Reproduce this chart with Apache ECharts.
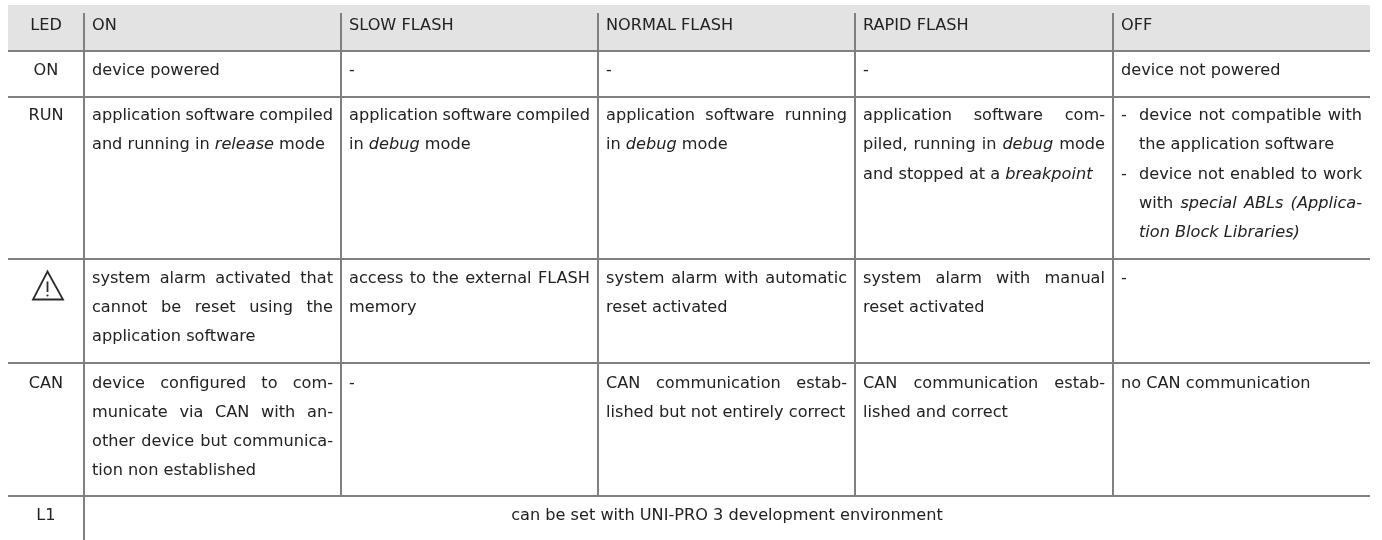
<!DOCTYPE html>
<html><head><meta charset="utf-8">
<style>html,body{margin:0;padding:0;background:#fff}#c{width:1382px;height:540px}</style>
<script src="https://cdn.jsdelivr.net/npm/echarts@6/dist/echarts.min.js"></script>
</head><body><div id="c"></div>
<script>
// Table content: *x* marks italic, \n marks a line break, "- " a hanging bullet.
const headers = ['LED','ON','SLOW FLASH','NORMAL FLASH','RAPID FLASH','OFF'];
const ledNames = ['ON','RUN','!','CAN','L1'];
const onTexts = [
  'device powered',
  'application software compiled\nand running in *release* mode',
  'system alarm activated that\ncannot be reset using the\napplication software',
  'device configured to com-\nmunicate via CAN with an-\nother device but communica-\ntion non established'
];
const slowTexts = [
  '-',
  'application software compiled\nin *debug* mode',
  'access to the external FLASH\nmemory',
  '-'
];
const normalTexts = [
  '-',
  'application software running\nin *debug* mode',
  'system alarm with automatic\nreset activated',
  'CAN communication estab-\nlished but not entirely correct'
];
const rapidTexts = [
  '-',
  'application software com-\npiled, running in *debug* mode\nand stopped at a *breakpoint*',
  'system alarm with manual\nreset activated',
  'CAN communication estab-\nlished and correct'
];
const offTexts = [
  'device not powered',
  '- device not compatible with\n  the application software\n- device not enabled to work\n  with *special ABLs (Applica-*\n  *tion Block Libraries)*',
  '-',
  'no CAN communication'
];
const l1Text = 'can be set with UNI-PRO 3 development environment';

// Layout of the table in the pixel-scaled axes
const columnEdges = [8,84,341,598,855,1113,1370];
const rowEdges = [51,97,259,363,496,540];
const firstLineY = [70.5,116,278.5,383.5,516];
const headerY = 25.5;
const lineStep = 29.2;
const PAD = 8, INDENT = 18;
const FONT = 'DejaVu Sans', SIZE = 16.15, COLOR = '#222222', RULE = '#808080', BAND = '#e3e3e3';

const ctx = document.createElement('canvas').getContext('2d');
function measure(t, it){ ctx.font = (it?'italic ':'')+SIZE+'px "'+FONT+'"'; return ctx.measureText(t).width; }
function parseLine(s){
  const words=[]; let it=false;
  s.trim().split(/\s+/).forEach(w=>{
    let st=it, txt=w;
    if(txt.startsWith('*')){st=true;txt=txt.slice(1);it=true;}
    if(txt.endsWith('*')){txt=txt.slice(0,-1);it=false;}
    words.push({t:txt,it:st});
  });
  return words;
}
function textEl(x,y,t,it,align){
  return {type:'text',x:x,y:y,style:{text:t,fontFamily:FONT,fontSize:SIZE,fontStyle:it?'italic':'normal',fill:COLOR,align:align||'left',verticalAlign:'middle'}};
}
function cellEls(api,text,c,r){
  const out=[]; const lines=text.split('\n');
  const left=api.coord([columnEdges[c]+PAD,0])[0];
  const right=api.coord([columnEdges[c+1]-PAD,0])[0];
  lines.forEach((ln,i)=>{
    const y=api.coord([0,firstLineY[r]+i*lineStep])[1];
    let x0=left; let src=ln;
    if(src.startsWith('- ')){ out.push(textEl(x0,y,'-',false)); x0=left+INDENT; src=src.slice(2); }
    else if(src.startsWith('  ')){ x0=left+INDENT; }
    const words=parseLine(src);
    const next=lines[i+1];
    const justify = next!==undefined && !next.startsWith('- ');
    const ws=words.map(w=>measure(w.t,w.it));
    const total=ws.reduce((a,b)=>a+b,0);
    const sp = justify && words.length>1 ? (right-x0-total)/(words.length-1) : measure(' ',false);
    let x=x0;
    words.forEach((w,k)=>{ out.push(textEl(x,y,w.t,w.it)); x+=ws[k]+sp; });
  });
  return out;
}
const columns=[onTexts,slowTexts,normalTexts,rapidTexts,offTexts];
function renderTable(params,api){
  const ch=[];
  const P=(x,y)=>api.coord([x,y]);
  const L=columnEdges[0],R=columnEdges[6];
  const a=P(L,5),b=P(R,50);
  ch.push({type:'rect',shape:{x:a[0],y:a[1],width:b[0]-a[0],height:b[1]-a[1]},style:{fill:BAND}});
  const line=(x1,y1,x2,y2)=>{const p=P(x1,y1),q=P(x2,y2);ch.push({type:'line',shape:{x1:p[0],y1:p[1],x2:q[0],y2:q[1]},style:{stroke:RULE,lineWidth:2}});};
  // vertical rules
  line(columnEdges[1],13,columnEdges[1],540);
  for(let i=2;i<=5;i++) line(columnEdges[i],13,columnEdges[i],rowEdges[4]);
  // horizontal rules
  for(let i=0;i<5;i++) line(L,rowEdges[i],R,rowEdges[i]);
  // headers
  headers.forEach((h,i)=>{
    if(i===0){ const p=P(46,headerY); ch.push(textEl(p[0],p[1],h,false,'center')); }
    else { const p=P(columnEdges[i]+PAD,headerY); ch.push(textEl(p[0],p[1],h,false)); }
  });
  // LED names
  ledNames.forEach((n,r)=>{
    const p=P(46,firstLineY[r]);
    if(n==='!'){
      const t=P(47.5,271.5),l=P(33,299.5),rr=P(63,299.5);
      ch.push({type:'polygon',shape:{points:[t,rr,l]},style:{fill:'none',stroke:'#2b2b2b',lineWidth:1.8,lineJoin:'miter'}});
      const e1=P(47.5,281.5),e2=P(47.5,292),d=P(47.5,295.5);
      ch.push({type:'line',shape:{x1:e1[0],y1:e1[1],x2:e2[0],y2:e2[1]},style:{stroke:'#2b2b2b',lineWidth:1.8}});
      ch.push({type:'circle',shape:{cx:d[0],cy:d[1],r:1.1},style:{fill:'#2b2b2b'}});
    } else ch.push(textEl(p[0],p[1],n,false,'center'));
  });
  // body cells
  columns.forEach((col,ci)=>col.forEach((t,r)=>ch.push(...cellEls(api,t,ci+1,r))));
  // merged L1 row
  const m=P((columnEdges[1]+columnEdges[6])/2,firstLineY[4]);
  ch.push(textEl(m[0],m[1],l1Text,false,'center'));
  return {type:'group',children:ch};
}
const chart=echarts.init(document.getElementById('c'),null,{renderer:'canvas'});
chart.setOption({
  animation:false,
  grid:{left:0,right:0,top:0,bottom:0},
  xAxis:{type:'value',min:0,max:1382,show:false},
  yAxis:{type:'value',min:0,max:540,inverse:true,show:false},
  series:[{type:'custom',coordinateSystem:'cartesian2d',clip:false,silent:true,renderItem:renderTable,data:[[0,0]]}]
});
</script></body></html>
